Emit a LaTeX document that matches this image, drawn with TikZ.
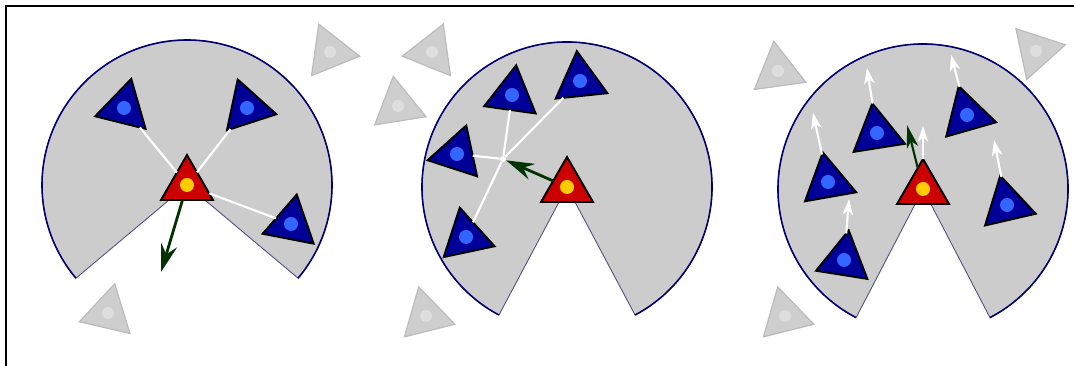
\documentclass[tikz,border=0pt]{standalone}
\usepackage{tikz}
\usetikzlibrary{positioning,arrows.meta,shapes.geometric,backgrounds}

\definecolor{zonegray}{RGB}{204,204,204}
\definecolor{zonenavy}{RGB}{0,0,110}
\definecolor{zoneedge}{RGB}{80,80,130}
\definecolor{agentblue}{RGB}{0,0,153}
\definecolor{dotblue}{RGB}{51,102,255}
\definecolor{leaderred}{RGB}{204,0,0}
\definecolor{dotyellow}{RGB}{255,204,0}
\definecolor{headgreen}{RGB}{0,51,0}
\definecolor{idlegray}{RGB}{206,206,206}
\definecolor{idleedge}{RGB}{188,188,188}
\definecolor{idlespot}{RGB}{222,222,222}

\begin{document}
\begin{tikzpicture}[
  x=0.2mm, y=0.2mm,
  tri/.style={regular polygon, regular polygon sides=3, minimum size=12mm, inner sep=0pt, outer sep=0pt},
  agent/.style={tri, draw=black, line width=1.1pt, fill=agentblue,
    label={[circle, draw=none, fill=dotblue, minimum size=2.8mm, inner sep=0pt]center:}},
  leader/.style={tri, draw=black, line width=1.1pt, fill=leaderred,
    label={[circle, draw=none, fill=dotyellow, minimum size=2.8mm, inner sep=0pt]center:}},
  idle/.style={tri, draw=idleedge, line width=0.7pt, fill=idlegray,
    label={[circle, draw=none, fill=idlespot, minimum size=2.4mm, inner sep=0pt]center:}},
  hub/.style={circle, fill=white, minimum size=1.2mm, inner sep=0pt},
  zone/.style={fill=zonegray, draw=zoneedge, line width=0.5pt},
  rim/.style={draw=zonenavy, line width=0.9pt},
  link/.style={white, line width=1.2pt},
  heading/.style={-{Stealth[length=16pt, width=9.5pt, inset=5.5pt]}, headgreen, line width=1.6pt},
  nudge/.style={-{Stealth[length=13pt, width=6.5pt, inset=3.5pt]}, headgreen, line width=1.2pt},
  drift/.style={-{Stealth[length=9pt, width=6pt, inset=2.5pt]}, white, line width=1.2pt},
  boxline/.style={black, line width=1.2pt}
]
\useasboundingbox (0,0) rectangle (1074,366);
\draw[boxline] (6,0) -- (6,360) -- (1074,360);

% Panel 1
\node[leader] (lead1) at (187,181) {};
\node[agent, rotate=-14] (a11) at (124,258) {};
\node[agent, rotate=18] (a12) at (247,258) {};
\node[agent, rotate=-11] (a13) at (291,142) {};
\node[idle, rotate=22] (idle11) at (330,314) {};
\node[idle, rotate=-13] (idle12) at (108,53) {};
\coordinate (goal1) at (161,94);

\begin{scope}[on background layer]
\filldraw[zone] (lead1.center) -- ++(320:145) arc (320:580:145) -- cycle;
\draw[rim] (lead1.center) ++(320:145) arc (320:580:145);
\end{scope}

\draw[link] (lead1) -- (a11);
\draw[link] (lead1) -- (a12);
\draw[link] (lead1) -- (a13);
\draw[heading] (lead1) -- (goal1);

% Panel 2
\node[leader] (lead2) at (567,179) {};
\node[agent, rotate=-8] (a21) at (512,271) {};
\node[agent, rotate=6] (a22) at (580,285) {};
\node[agent, rotate=-18] (a23) at (457,212) {};
\node[agent, rotate=12] (a24) at (466,129) {};
\node[hub] (hub2) at (503,207) {};
\node[idle, rotate=-22] (idle21) at (432,314) {};
\node[idle, rotate=9] (idle22) at (398,260) {};
\node[idle, rotate=14] (idle23) at (426,50) {};

\begin{scope}[on background layer]
\filldraw[zone] (lead2.center) -- ++(298:145) arc (298:602:145) -- cycle;
\draw[rim] (lead2.center) ++(298:145) arc (298:602:145);
\end{scope}

\draw[link] (hub2) -- (a21);
\draw[link] (hub2) -- (a22);
\draw[link] (hub2) -- (a23);
\draw[link] (hub2) -- (a24);
\draw[heading] (lead2) -- (hub2);

% Panel 3
\node[leader] (lead3) at (923,177) {};
\node[agent, rotate=9] (a31) at (877,233) {};
\node[agent, rotate=16] (a32) at (967,251) {};
\node[agent, rotate=10] (a33) at (828,184) {};
\node[agent, rotate=-9] (a34) at (844,106) {};
\node[agent, rotate=13] (a35) at (1007,161) {};
\node[idle, rotate=8] (idle31) at (778,295) {};
\node[idle, rotate=42] (idle32) at (1036,315) {};
\node[idle, rotate=14] (idle33) at (785,50) {};
\coordinate (d30) at (923,240);
\coordinate (d31) at (867,298);
\coordinate (d32) at (951,311);
\coordinate (d33) at (813,253);
\coordinate (d34) at (849,167);
\coordinate (d35) at (994,226);
\coordinate (goal3) at (907,241);

\begin{scope}[on background layer]
\filldraw[zone] (lead3.center) -- ++(297.5:145) arc (297.5:602.5:145) -- cycle;
\draw[rim] (lead3.center) ++(297.5:145) arc (297.5:602.5:145);
\end{scope}

\draw[drift] (a31) -- (d31);
\draw[drift] (a32) -- (d32);
\draw[drift] (a33) -- (d33);
\draw[drift] (a34) -- (d34);
\draw[drift] (a35) -- (d35);
\draw[drift] (lead3) -- (d30);
\draw[nudge] (lead3) -- (goal3);

\end{tikzpicture}
\end{document}
